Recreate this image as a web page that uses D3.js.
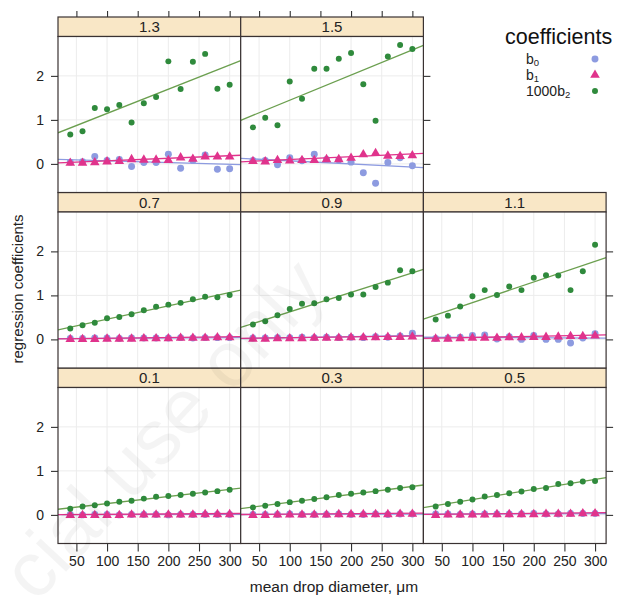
<!DOCTYPE html>
<html>
<head>
<meta charset="utf-8">
<script src="https://cdn.jsdelivr.net/npm/d3@7"></script>
<style>
  body { margin: 0; background: #fff; }
  svg text { font-family: "Liberation Sans", Arial, sans-serif; }
</style>
</head>
<body>
<svg id="chart" width="619" height="596"></svg>
<script>
// mean drop diameter (um)
var diam = [40, 60, 80, 100, 120, 140, 160, 180, 200, 220, 240, 260, 280, 300];

// panels, ordered like lattice (bottom-left first)
var panels = ["0.1", "0.3", "0.5", "0.7", "0.9", "1.1", "1.3", "1.5"];

var b0 = [
  [0.01, 0.00, 0.01, 0.01, 0.00, 0.01, 0.01, 0.01, 0.00, 0.01, 0.01, 0.01, 0.01, 0.01],
  [0.01, 0.01, 0.01, 0.02, 0.01, 0.01, 0.01, 0.02, 0.01, 0.01, 0.02, 0.01, 0.02, 0.02],
  [0.02, 0.02, 0.01, 0.02, 0.02, 0.02, 0.02, 0.02, 0.03, 0.02, 0.02, 0.03, 0.03, 0.03],
  [0.02, 0.02, 0.03, 0.03, 0.02, 0.03, 0.03, 0.03, 0.03, 0.04, 0.03, 0.04, 0.04, 0.04],
  [0.03, 0.03, 0.04, 0.04, 0.05, 0.04, 0.05, 0.04, 0.05, 0.04, 0.06, 0.05, 0.08, 0.14],
  [0.02, 0.03, 0.05, 0.09, 0.10, 0.01, 0.06, 0.00, 0.09, 0.00, 0.00, -0.08, 0.03, 0.13],
  [0.04, 0.05, 0.17, 0.08, 0.10, -0.06, 0.03, 0.03, 0.22, -0.10, 0.08, 0.20, -0.12, -0.11],
  [0.08, 0.08, -0.02, 0.14, 0.07, 0.22, 0.10, 0.09, 0.04, -0.20, -0.44, 0.03, 0.14, -0.04]
];

var b1 = [
  [0.01, 0.01, 0.01, 0.01, 0.01, 0.02, 0.02, 0.02, 0.02, 0.02, 0.02, 0.03, 0.03, 0.03],
  [0.01, 0.01, 0.02, 0.02, 0.02, 0.02, 0.02, 0.03, 0.03, 0.03, 0.03, 0.03, 0.04, 0.04],
  [0.01, 0.02, 0.02, 0.02, 0.02, 0.03, 0.03, 0.03, 0.03, 0.04, 0.04, 0.04, 0.05, 0.05],
  [0.02, 0.02, 0.02, 0.03, 0.03, 0.03, 0.04, 0.04, 0.04, 0.05, 0.05, 0.05, 0.06, 0.06],
  [0.03, 0.03, 0.04, 0.04, 0.04, 0.05, 0.05, 0.05, 0.06, 0.06, 0.06, 0.07, 0.07, 0.08],
  [0.03, 0.03, 0.04, 0.05, 0.05, 0.05, 0.06, 0.06, 0.07, 0.07, 0.08, 0.09, 0.09, 0.10],
  [0.04, 0.04, 0.05, 0.07, 0.08, 0.12, 0.11, 0.11, 0.10, 0.16, 0.13, 0.18, 0.18, 0.18],
  [0.08, 0.07, 0.10, 0.09, 0.10, 0.10, 0.12, 0.12, 0.15, 0.23, 0.26, 0.20, 0.19, 0.21]
];

// 1000 * b2
var b2 = [
  [0.14, 0.19, 0.22, 0.26, 0.30, 0.32, 0.37, 0.41, 0.43, 0.45, 0.48, 0.51, 0.54, 0.57],
  [0.17, 0.21, 0.25, 0.29, 0.32, 0.36, 0.40, 0.45, 0.48, 0.51, 0.54, 0.57, 0.61, 0.63],
  [0.19, 0.25, 0.30, 0.35, 0.42, 0.45, 0.49, 0.53, 0.59, 0.61, 0.70, 0.72, 0.76, 0.77],
  [0.25, 0.32, 0.38, 0.48, 0.51, 0.57, 0.66, 0.74, 0.79, 0.83, 0.91, 0.97, 0.96, 1.01],
  [0.34, 0.41, 0.55, 0.69, 0.81, 0.82, 0.91, 0.94, 1.02, 1.02, 1.19, 1.29, 1.57, 1.55],
  [0.45, 0.54, 0.75, 0.98, 1.12, 1.01, 1.20, 1.12, 1.40, 1.46, 1.45, 1.12, 1.55, 2.15],
  [0.67, 0.74, 1.27, 1.24, 1.34, 0.94, 1.38, 1.52, 2.33, 1.70, 2.32, 2.50, 1.71, 1.80],
  [0.83, 1.05, 0.88, 1.87, 1.48, 2.16, 2.16, 2.39, 2.52, 1.81, 0.98, 2.44, 2.70, 2.61]
];

var xTicks = [50, 100, 150, 200, 250, 300];
var yTicks = [0, 1, 2];

var series = [
  { name: "b0", sub: "0", pre: "", values: b0, col: "#8d9be0", shape: "circle" },
  { name: "b1", sub: "1", pre: "", values: b1, col: "#e0338c", shape: "triangle" },
  { name: "1000b2", sub: "2", pre: "1000", values: b2, col: "#2f8a3c", line: "#6b9f4f", shape: "dot" }
];

var svg = d3.select("#chart");

var gridLeft = 58, gridTop = 17;
var colW = 182.7, rowH = 175.5, stripH = 19.5, panelH = rowH - stripH;

var x = d3.scaleLinear().domain([20, 318]).range([0, colW]);
var y = d3.scaleLinear().domain([-0.65, 2.895]).range([panelH, 0]);

function translate(a, b) {
  return "translate(" + a + "," + b + ")";
}

// least squares fit, like panel.lmline
function lmfit(xs, ys) {
  var mx = d3.mean(xs), my = d3.mean(ys);
  var sxy = d3.sum(xs, function(v, i) { return (v - mx) * (ys[i] - my); });
  var sxx = d3.sum(xs, function(v) { return (v - mx) * (v - mx); });
  var slope = sxy / sxx;
  return function(v) { return my + slope * (v - mx); };
}

var sym = {
  circle: d3.symbol().type(d3.symbolCircle).size(38),
  triangle: d3.symbol().type(d3.symbolTriangle).size(40),
  dot: d3.symbol().type(d3.symbolCircle).size(28)
};

panels.forEach(function(p, i) {
  var col = i % 3, rowB = Math.floor(i / 3);
  var px = gridLeft + col * colW;
  var py = gridTop + (2 - rowB) * rowH;
  var g = svg.append("g").attr("transform", translate(px, py));

  // strip
  g.append("rect")
    .attr("width", colW).attr("height", stripH)
    .attr("fill", "#f9e7c6").attr("stroke", "#3a3232").attr("stroke-width", 1.2);
  g.append("text")
    .attr("x", colW / 2).attr("y", stripH / 2 + 5.5)
    .attr("text-anchor", "middle").attr("font-size", 15).attr("fill", "#222")
    .text(p);

  var pg = g.append("g").attr("transform", translate(0, stripH));
  pg.append("rect").attr("width", colW).attr("height", panelH).attr("fill", "#fff");

  // grid
  pg.selectAll("line.v").data(xTicks).enter().append("line")
    .attr("x1", d => x(d)).attr("x2", d => x(d))
    .attr("y1", 0).attr("y2", panelH)
    .attr("stroke", "#ececec").attr("stroke-width", 1);
  pg.selectAll("line.h").data(yTicks).enter().append("line")
    .attr("y1", d => y(d)).attr("y2", d => y(d))
    .attr("x1", 0).attr("x2", colW)
    .attr("stroke", "#ececec").attr("stroke-width", 1);

  var clip = pg.append("clipPath").attr("id", "clip" + i);
  clip.append("rect").attr("width", colW).attr("height", panelH);
  var inner = pg.append("g").attr("clip-path", "url(#clip" + i + ")");

  series.forEach(function(s) {
    var vals = s.values[i];
    var f = lmfit(diam, vals);
    inner.append("line")
      .attr("x1", x(20)).attr("x2", x(318))
      .attr("y1", y(f(20))).attr("y2", y(f(318)))
      .attr("stroke", s.line || s.col).attr("stroke-width", 1.3);
    inner.selectAll(null).data(vals).enter().append("path")
      .attr("d", sym[s.shape])
      .attr("transform", (d, j) => translate(x(diam[j]), y(d) + (s.shape === "triangle" ? 0.8 : 0)))
      .attr("fill", s.col);
  });

  pg.append("rect").attr("width", colW).attr("height", panelH)
    .attr("fill", "none").attr("stroke", "#3a3232").attr("stroke-width", 1.2);

  // axes
  var isTopRow = rowB === 2;
  var isRight = (col === 2) || (isTopRow && col === 1);
  if (col === 0) {
    var ax = pg.append("g").call(d3.axisLeft(y).tickValues(yTicks).tickSize(7).tickPadding(7).tickFormat(d3.format("d")));
    styleAxis(ax);
  }
  if (isRight) {
    var ar = pg.append("g").attr("transform", translate(colW, 0))
      .call(d3.axisRight(y).tickValues(yTicks).tickSize(7).tickFormat(""));
    styleAxis(ar);
  }
  if (isTopRow) {
    var at = g.append("g").call(d3.axisTop(x).tickValues(xTicks).tickSize(6).tickFormat(""));
    styleAxis(at);
  }
  if (rowB === 0) {
    var ab = pg.append("g").attr("transform", translate(0, panelH))
      .call(d3.axisBottom(x).tickValues(xTicks).tickSize(8).tickPadding(5));
    styleAxis(ab);
  }
});

function styleAxis(a) {
  a.select(".domain").remove();
  a.selectAll(".tick line").attr("stroke", "#333").attr("stroke-width", 1.1);
  a.selectAll(".tick text").attr("font-size", 14).attr("fill", "#222")
    .style("font-family", "'Liberation Sans', Arial, sans-serif");
}

// axis titles
svg.append("text")
  .attr("transform", translate(23, 289) + " rotate(-90)")
  .attr("text-anchor", "middle").attr("font-size", 15).attr("fill", "#222")
  .text("regression coefficients");
svg.append("text")
  .attr("x", 334).attr("y", 592)
  .attr("text-anchor", "middle").attr("font-size", 15.5).attr("fill", "#222")
  .text("mean drop diameter, \u03bcm");

// legend
var leg = svg.append("g");
leg.append("text").attr("x", 505).attr("y", 44)
  .attr("font-size", 21.5).attr("fill", "#111").text("coefficients");
series.forEach(function(s, k) {
  var ly = 64 + k * 16;
  var t = leg.append("text").attr("x", 526).attr("y", ly).attr("font-size", 14).attr("fill", "#222");
  t.append("tspan").text(s.pre + "b");
  t.append("tspan").attr("font-size", 9.5).attr("dy", 2).text(s.sub);
  leg.append("path").attr("d", sym[s.shape])
    .attr("transform", translate(595, ly - 5))
    .attr("fill", s.col);
});

// faint watermark
svg.append("text")
  .attr("transform", translate(36, 604) + " rotate(-47)")
  .attr("font-size", 78).attr("fill", "#000").attr("fill-opacity", 0.045)
  .text("cial use only");
</script>
</body>
</html>
